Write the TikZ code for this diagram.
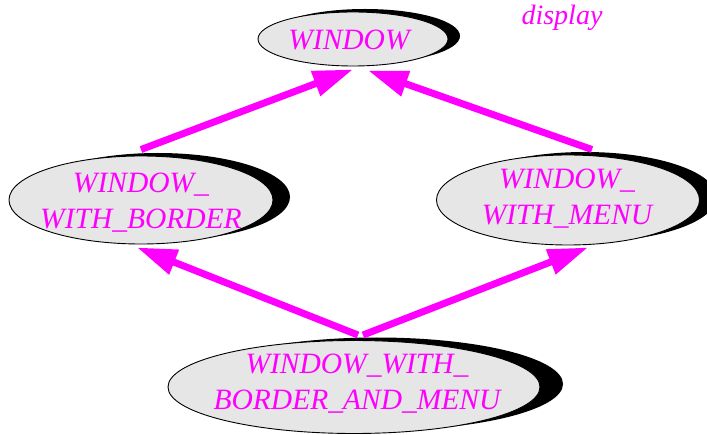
\documentclass[tikz,border=0pt]{standalone}
\usepackage{fontspec}
\setmainfont{Liberation Serif}
\usetikzlibrary{shapes.geometric,shadows,arrows.meta}
\definecolor{mag}{HTML}{FF00FF}
\definecolor{cellgray}{HTML}{E6E6E6}
\begin{document}
\begin{tikzpicture}[x=1pt,y=1pt,
  cls/.style={ellipse, draw=black, line width=0.9pt, fill=cellgray, inner sep=0pt},
  lbl/.style={text=mag, align=center, inner sep=0pt,
    font=\fontsize{29.5}{36}\selectfont\itshape},
  inh/.style={draw=mag, line width=7pt, -{Triangle[length=40pt,width=25pt]}}
]
\useasboundingbox (0,0) rectangle (707,434);
\node[cls, minimum width=190pt, minimum height=54pt,
  general shadow={fill=black, shadow xshift=12pt, shadow yshift=3pt}]
  (win) at (353,395) {};
\node[cls, minimum width=264pt, minimum height=88pt,
  general shadow={fill=black, shadow xshift=17pt, shadow yshift=3pt}]
  (wwb) at (141,234) {};
\node[cls, minimum width=263pt, minimum height=90pt,
  general shadow={fill=black, shadow xshift=17pt, shadow yshift=3pt}]
  (wwm) at (568,234) {};
\node[cls, minimum width=372pt, minimum height=93pt,
  general shadow={fill=black, shadow xshift=23pt, shadow yshift=3pt}]
  (wbm) at (354,47) {};
\node[lbl] (twin) at (349,394) {WINDOW};
\node[lbl] (twwb) at (141,231) {WINDOW\_\\WITH\_BORDER};
\node[lbl] (twwm) at (567,235) {WINDOW\_\\WITH\_MENU};
\node[lbl] (twbm) at (357,50) {WINDOW\_WITH\_\\BORDER\_AND\_MENU};
\node[text=mag, font=\fontsize{28}{34}\selectfont\itshape, anchor=base, inner sep=0pt]
  (disp) at (562,409) {display};
\draw[inh] ([yshift=6pt]wwb.north) -- ([yshift=-3pt]win.south);
\draw[inh] ([xshift=24pt,yshift=5pt]wwm.north) -- ([xshift=15pt,yshift=-4pt]win.south);
\draw[inh] ([xshift=4pt,yshift=5pt]wbm.north) -- ([xshift=-4pt,yshift=-3pt]wwb.south);
\draw[inh] ([xshift=9pt,yshift=5pt]wbm.north) -- ([xshift=20pt,yshift=-2pt]wwm.south);
\end{tikzpicture}
\end{document}
